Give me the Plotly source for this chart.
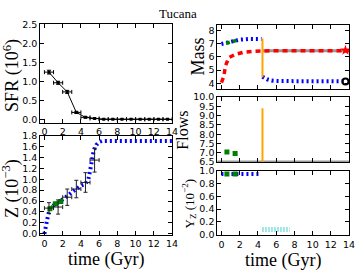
import plotly.graph_objects as go

# ---------------- data ----------------
sfr_t = [0.5, 1.5, 2.5, 3.5, 4.5, 5.5, 6.5, 7.5, 8.5, 9.5, 10.5, 11.5, 12.5, 13.5]
sfr_v = [1.24, 0.96, 0.72, 0.18, 0.05, 0.02, 0.0, 0.0, 0.0, 0.0, 0.0, 0.0, 0.0, 0.0]
sfr_err = [0.05, 0.04, 0.04, 0.03, 0.02, 0.01, 0.0, 0.0, 0.0, 0.0, 0.0, 0.0, 0.0, 0.0]

zobs_t = [0.5, 1.5, 2.5, 3.5, 4.5, 5.5]
zobs_v = [0.47, 0.49, 0.67, 0.82, 0.94, 1.35]
zobs_err = [0.10, 0.13, 0.15, 0.16, 0.18, 0.22]

zmod_t = [0.0, 0.2, 0.4, 0.6, 1.0, 1.5, 2.0, 2.5, 3.0, 3.5, 4.0, 4.5, 4.8, 5.0, 5.2, 5.4, 5.7, 6.0, 6.3, 7.0, 14.0]
zmod_v = [0.0, 0.19, 0.34, 0.46, 0.52, 0.57, 0.62, 0.69, 0.76, 0.83, 0.88, 0.92, 0.98, 1.15, 1.35, 1.52, 1.63, 1.68, 1.70, 1.70, 1.70]
zgreen_t = [0.6, 1.2, 1.8]
zgreen_v = [0.46, 0.55, 0.59]

mblue1_t = [0.0, 0.5, 1.0, 1.5, 2.0, 2.5, 3.0, 3.5, 4.0, 4.4]
mblue1_v = [6.98, 7.04, 7.12, 7.22, 7.3, 7.35, 7.36, 7.36, 7.36, 7.36]
mblue2_t = [4.5, 5.0, 5.5, 6.0, 8.0, 10.0, 12.0, 13.6]
mblue2_v = [4.5, 4.3, 4.2, 4.17, 4.16, 4.16, 4.16, 4.16]
mred_t = [0.0, 0.25, 0.45, 0.8, 1.5, 2.4, 3.5, 4.5, 6.0, 14.0]
mred_v = [4.05, 4.5, 5.33, 5.94, 6.18, 6.35, 6.42, 6.46, 6.47, 6.47]
mgreen_t = [0.5, 1.0, 1.5, 1.9]
mgreen_v = [7.02, 7.1, 7.22, 7.3]
star_pt = [13.6, 6.5]
circle_pt = [13.6, 4.14]
drop_t = 4.5
mass_drop = [4.45, 7.4]

flow_green_t = [0.6, 1.5]
flow_green_v = [7.05, 6.97]
flow_orange = [6.5, 9.4]
flow_gray = [6.5, 6.5]

yz_blue_t = [0.0, 4.3]
yz_blue_v = [0.95, 0.95]
yz_green_t = [0.6, 1.5]
yz_green_v = [0.95, 0.95]
yz_cyan_t = [4.5, 7.5]
yz_cyan_v = [0.08, 0.08]

x_ticks = [0, 2, 4, 6, 8, 10, 12, 14]

# ---------------- layout helpers ----------------
W, H = 362, 272
def xd(a, b):
    return [a / W, b / W]
def yd(top, bot):
    return [1 - bot / H, 1 - top / H]

TICKFONT = dict(family="DejaVu Sans", size=9.5, color="black")
SERIF = "Liberation Serif"
BLUE = "#0000FF"; RED = "#FF0000"; GREEN = "#008000"; ORANGE = "#FFA500"; CYAN = "#40D0D0"

fig = go.Figure()

def axis_common(**kw):
    d = dict(showline=True, linecolor="black", linewidth=1, mirror="allticks",
             ticks="inside", ticklen=4, tickcolor="black", tickwidth=1,
             showgrid=False, zeroline=False, tickfont=TICKFONT)
    d.update(kw)
    return d

# SFR panel (x1,y1)
fig.add_trace(go.Scatter(x=sfr_t, y=sfr_v, mode="lines+markers",
    line=dict(color="black", width=1), marker=dict(color="black", size=3, symbol="square"),
    error_x=dict(type="constant", value=0.5, color="black", thickness=1, width=2),
    error_y=dict(type="data", array=sfr_err, color="black", thickness=1, width=2),
    xaxis="x", yaxis="y", showlegend=False))

# Z panel (x2,y2)
fig.add_trace(go.Scatter(x=zmod_t, y=zmod_v, mode="lines",
    line=dict(color=BLUE, width=4, dash="2px,3px"), xaxis="x2", yaxis="y2", showlegend=False))
fig.add_trace(go.Scatter(x=zgreen_t, y=zgreen_v, mode="lines+markers",
    line=dict(color=GREEN, width=3, dash="4px,3px"), marker=dict(color=GREEN, size=5, symbol="square"),
    xaxis="x2", yaxis="y2", showlegend=False))
fig.add_trace(go.Scatter(x=zobs_t, y=zobs_v, mode="markers",
    marker=dict(color="black", size=1),
    error_x=dict(type="constant", value=0.5, color="#222", thickness=1, width=2),
    error_y=dict(type="data", array=zobs_err, color="#222", thickness=1, width=2),
    xaxis="x2", yaxis="y2", showlegend=False))

# Mass panel (x3,y3)
fig.add_trace(go.Scatter(x=[4.5, 14], y=[6.47, 6.47], mode="lines",
    line=dict(color="#999999", width=3), xaxis="x3", yaxis="y3", showlegend=False))
fig.add_trace(go.Scatter(x=mred_t, y=mred_v, mode="lines",
    line=dict(color=RED, width=3.5, dash="5px,4px"), xaxis="x3", yaxis="y3", showlegend=False))
fig.add_trace(go.Scatter(x=mblue1_t, y=mblue1_v, mode="lines",
    line=dict(color=BLUE, width=4, dash="2px,3px"), xaxis="x3", yaxis="y3", showlegend=False))
fig.add_trace(go.Scatter(x=mblue2_t, y=mblue2_v, mode="lines",
    line=dict(color=BLUE, width=4, dash="2px,3px"), xaxis="x3", yaxis="y3", showlegend=False))
fig.add_trace(go.Scatter(x=mgreen_t, y=mgreen_v, mode="lines",
    line=dict(color=GREEN, width=3.5, dash="4px,3px"), xaxis="x3", yaxis="y3", showlegend=False))
fig.add_trace(go.Scatter(x=[drop_t, drop_t], y=mass_drop, mode="lines",
    line=dict(color=ORANGE, width=2), xaxis="x3", yaxis="y3", showlegend=False))
fig.add_trace(go.Scatter(x=[star_pt[0]], y=[star_pt[1]], mode="markers",
    marker=dict(symbol="star", color=RED, size=8), xaxis="x3", yaxis="y3", showlegend=False))
fig.add_trace(go.Scatter(x=[circle_pt[0]], y=[circle_pt[1]], mode="markers",
    marker=dict(symbol="circle-open", color="black", size=6, line=dict(width=2)),
    xaxis="x3", yaxis="y3", showlegend=False))

# Flows panel (x4,y4)
fig.add_trace(go.Scatter(x=[-0.5, 14], y=flow_gray, mode="lines",
    line=dict(color="#999999", width=3), xaxis="x4", yaxis="y4", showlegend=False))
fig.add_trace(go.Scatter(x=flow_green_t, y=flow_green_v, mode="markers",
    marker=dict(symbol="square", color=GREEN, size=5), xaxis="x4", yaxis="y4", showlegend=False))
fig.add_trace(go.Scatter(x=[drop_t, drop_t], y=flow_orange, mode="lines",
    line=dict(color=ORANGE, width=2), xaxis="x4", yaxis="y4", showlegend=False))

# Yz panel (x5,y5)
fig.add_trace(go.Scatter(x=yz_blue_t, y=yz_blue_v, mode="lines",
    line=dict(color=BLUE, width=4, dash="2px,3px"), xaxis="x5", yaxis="y5", showlegend=False))
fig.add_trace(go.Scatter(x=yz_green_t, y=yz_green_v, mode="markers",
    marker=dict(symbol="square", color=GREEN, size=5), xaxis="x5", yaxis="y5", showlegend=False))
fig.add_trace(go.Scatter(x=yz_cyan_t, y=yz_cyan_v, mode="lines",
    line=dict(color=CYAN, width=5, dash="1px,2px"), xaxis="x5", yaxis="y5", showlegend=False))

XR = [-0.45, 14]
LX = xd(41, 175); RX = xd(221, 355)
XTITLE = dict(text="time (Gyr)", font=dict(family=SERIF, size=18, color="black"), standoff=1)

fig.update_layout(
    width=W, height=H, margin=dict(l=0, r=0, t=0, b=0),
    paper_bgcolor="white", plot_bgcolor="white", hovermode=False,
    xaxis=axis_common(domain=LX, range=XR, tickvals=x_ticks, anchor="y"),
    yaxis=axis_common(domain=yd(19, 122), range=[-0.1, 2.5], tickvals=[0, 0.5, 1, 1.5, 2, 2.5],
                      ticktext=["0.0", "0.5", "1.0", "1.5", "2.0", "2.5"], anchor="x"),
    xaxis2=axis_common(domain=LX, range=XR, tickvals=x_ticks, anchor="y2", title=XTITLE),
    yaxis2=axis_common(domain=yd(135, 238.5), range=[-0.02, 1.8],
                       tickvals=[0, 0.2, 0.4, 0.6, 0.8, 1.0, 1.2, 1.4, 1.6, 1.8],
                       ticktext=["0.0", "0.2", "0.4", "0.6", "0.8", "1.0", "1.2", "1.4", "1.6", "1.8"], anchor="x2"),
    xaxis3=axis_common(domain=RX, range=XR, tickvals=x_ticks, showticklabels=False, anchor="y3"),
    yaxis3=axis_common(domain=yd(20, 86), range=[3.6, 8.4], tickvals=[4, 5, 6, 7, 8], anchor="x3"),
    xaxis4=axis_common(domain=RX, range=XR, tickvals=x_ticks, showticklabels=False, anchor="y4"),
    yaxis4=axis_common(domain=yd(95, 162.7), range=[6.5, 10.0],
                       tickvals=[6.5, 7, 7.5, 8, 8.5, 9, 9.5, 10],
                       ticktext=["6.5", "7.0", "7.5", "8.0", "8.5", "9.0", "9.5", "10.0"], anchor="x4"),
    xaxis5=axis_common(domain=RX, range=XR, tickvals=x_ticks, anchor="y5", title=XTITLE),
    yaxis5=axis_common(domain=yd(171.7, 239), range=[-0.01, 1.0],
                       tickvals=[0, 0.2, 0.4, 0.6, 0.8, 1.0],
                       ticktext=["0.0", "0.2", "0.4", "0.6", "0.8", "1.0"], anchor="x5"),
)

def ann(text, xpx, ypx, size, angle=0):
    fig.add_annotation(text=text, x=xpx / W, y=1 - ypx / H, xref="paper", yref="paper",
                       showarrow=False, textangle=angle, xanchor="center", yanchor="middle",
                       font=dict(family=SERIF, size=size, color="black"))

ann("Tucana", 181, 8, 13)
ann("SFR (10<sup>6</sup>)", 12, 72, 18, -90)
ann("Z (10<sup>−3</sup>)", 12, 190, 18, -90)
ann("Mass", 201, 53, 18, -90)
ann("Flows", 186, 129, 16, -90)
ann("Y<sub>Z</sub> (10<sup>−2</sup>)", 192, 206, 13, -90)

fig.write_html("out.html", config={"displayModeBar": False, "staticPlot": True},
               post_script="document.body.style.margin='0';document.body.style.overflow='hidden';")
